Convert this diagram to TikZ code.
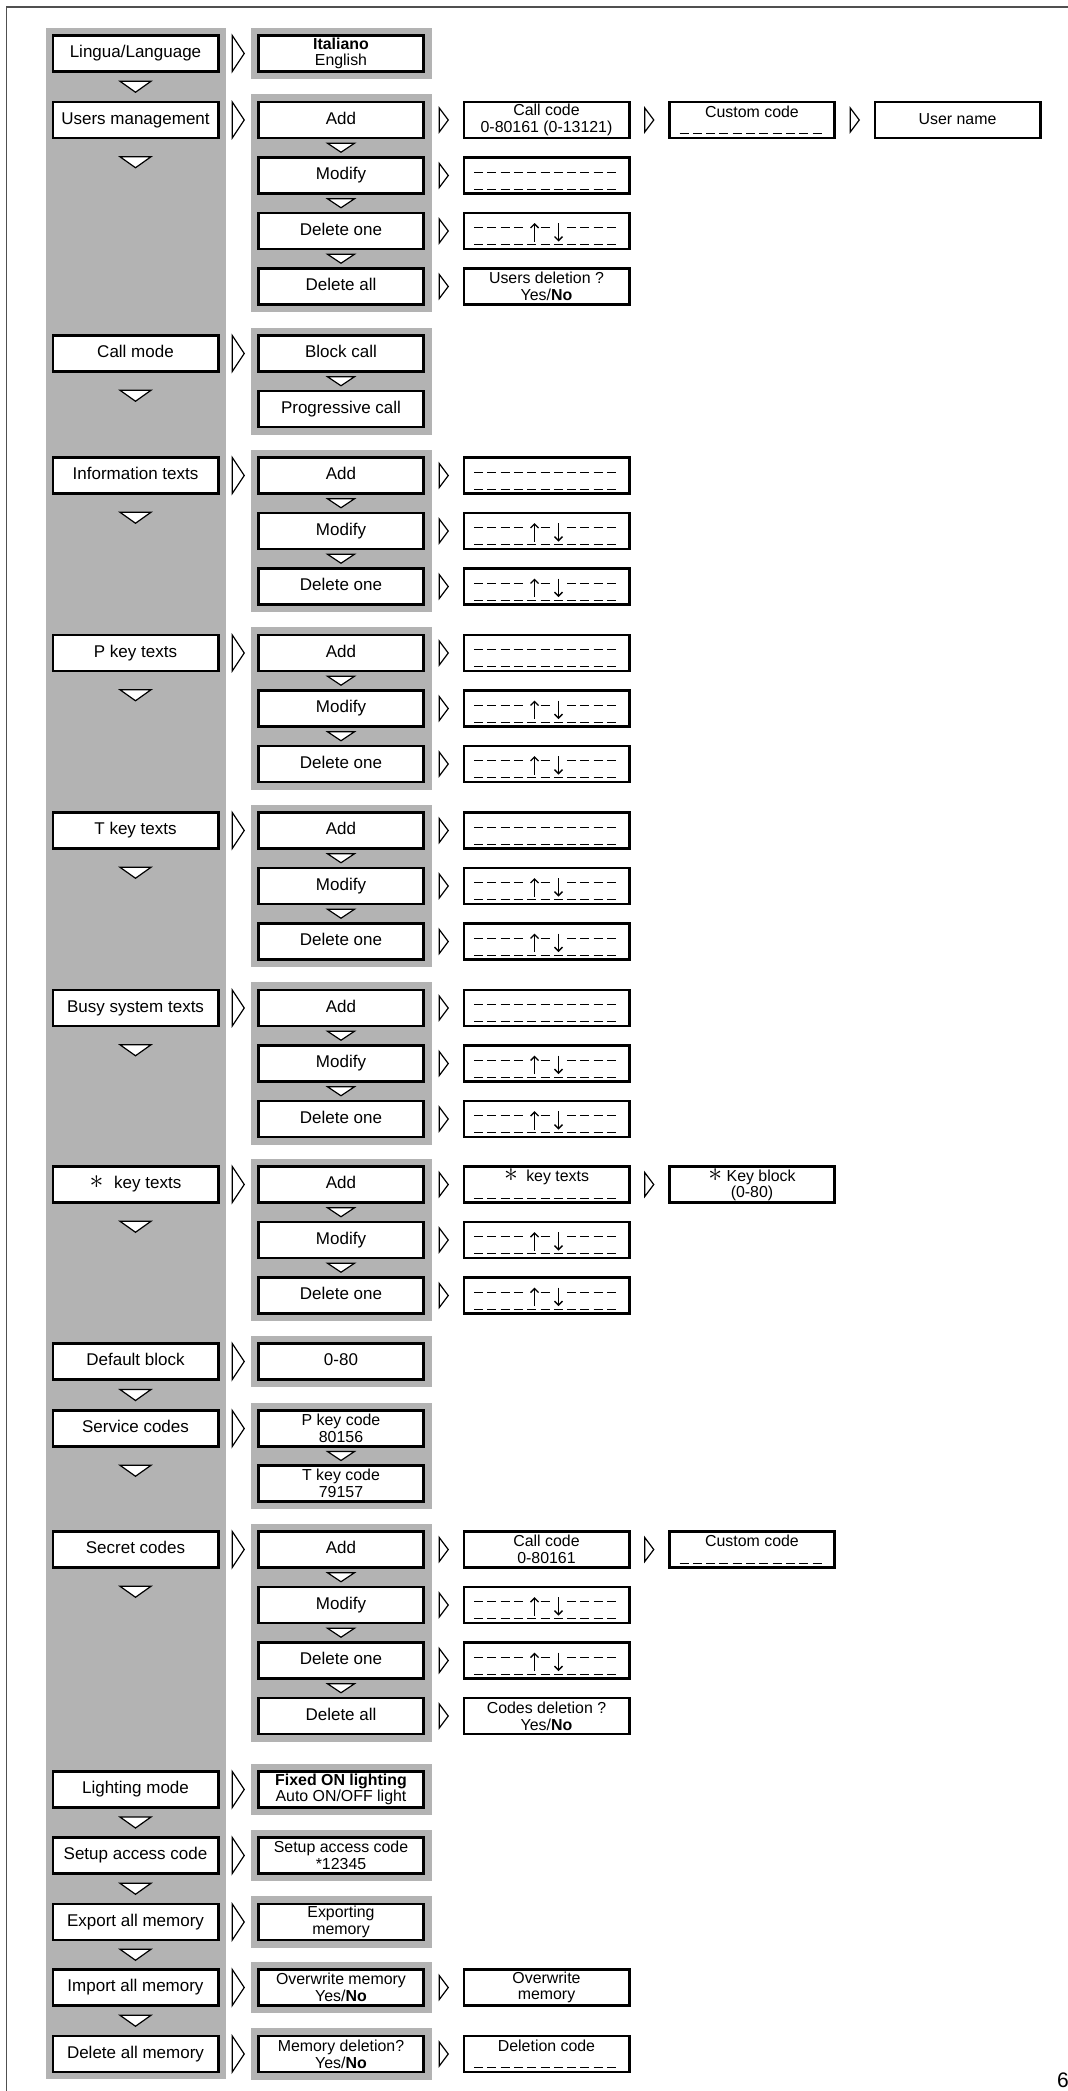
\documentclass[tikz,border=0pt]{standalone}
\usepackage{fontspec}
\setmainfont{Liberation Sans}
\usepackage{graphicx}
\usetikzlibrary{positioning,fit,backgrounds,calc,arrows.meta}

\definecolor{panelgray}{RGB}{179,179,179}
\definecolor{framegray}{RGB}{80,80,80}

\def\colgap{37.5pt}
\def\rowgap{17pt}

\tikzset{
  menubox/.style={draw=black, line width=2.6pt, fill=white, inner sep=0pt,
    minimum width=165.4pt, minimum height=35.9pt},
  item/.style={menubox, font=\fontsize{17}{18}\selectfont, text height=12pt, text depth=3.5pt},
  pair/.style={menubox, align=center, font=\fontsize{15.9}{16.6}\selectfont},
  lcdbox/.style={menubox},
  lcdcaption/.style={inner sep=0pt, font=\fontsize{15.9}{16.6}\selectfont, text height=11.5pt, text depth=3.4pt},
  panel/.style={fill=panelgray, inner sep=6.5pt},
  tri/.style={draw=black, line width=1.2pt, fill=white},
  lcd/.style={line width=0.9pt},
  lcdarrow/.style={line width=1.4pt, -{Straight Barb[length=4pt, width=8pt]}},
  bigtri/.pic={\draw[tri] (-6,18) -- (6,0) -- (-6,-18) -- cycle;},
  smalltri/.pic={\draw[tri] (-4.5,12) -- (4.5,0) -- (-4.5,-12) -- cycle;},
  downtri/.pic={\draw[tri] (-15.5,5.5) -- (15.5,5.5) -- (0,-5.5) -- cycle;},
  subtri/.pic={\draw[tri] (-13.5,4.5) -- (13.5,4.5) -- (0,-4.5) -- cycle;},
}

% display rows of the keypad screen
\newcommand{\dashrow}[2]{%
  \foreach \k in {0,...,10}
    \draw[lcd] ($(#1.center)+(-72.5+13.3*\k,#2)$) -- ++(9,0);}
\newcommand{\lcdblank}[1]{\dashrow{#1}{3.5}\dashrow{#1}{-13.5}}
\newcommand{\lcdscroll}[1]{%
  \foreach \k in {0,1,2,3,5,7,8,9,10}
    \draw[lcd] ($(#1.center)+(-72.5+13.3*\k,3.5)$) -- ++(9,0);
  \dashrow{#1}{-13.5}
  \draw[lcdarrow] ($(#1.center)+(-12,-10.5)$) -- ($(#1.center)+(-12,8)$);
  \draw[lcdarrow] ($(#1.center)+(12,8)$) -- ($(#1.center)+(12,-10.5)$);}
\newcommand{\lcdentry}[2]{%
  \node[lcdcaption] (#1cap) at ($(#1.center)+(0,7)$) {#2};
  \dashrow{#1}{-13.5}}

% pointers between menu boxes
\newcommand{\nextbig}[2]{\pic at ($(#1.east)!.5!(#2.west)$) {bigtri};}
\newcommand{\nextsmall}[2]{\pic at ($(#1.east)!.5!(#2.west)$) {smalltri};}
\newcommand{\downto}[2]{\pic at ($(#1.south)!.5!(#2.north)$) {downtri};}
\newcommand{\subto}[2]{\pic at ($(#1.south)!.5!(#2.north)$) {subtri};}
\newcommand{\downmore}[1]{\pic at ($(#1.south)+(0,-23)$) {downtri};}

\newcommand{\keystar}{\scalebox{1.6}{$\ast$}}

% menu with Add / Modify / Delete one
\newcommand{\textsgroup}[3]{%
  \node[item] (#1) at (135.5,#3) {#2};
  \node[item, right=\colgap of #1] (#1add) {Add};
  \node[item, below=\rowgap of #1add] (#1mod) {Modify};
  \node[item, below=\rowgap of #1mod] (#1del) {Delete one};
  \node[lcdbox, right=\colgap of #1add] (#1addlcd) {};
  \node[lcdbox, right=\colgap of #1mod] (#1modlcd) {};
  \node[lcdbox, right=\colgap of #1del] (#1dellcd) {};
  \lcdblank{#1addlcd}\lcdscroll{#1modlcd}\lcdscroll{#1dellcd}
  \nextbig{#1}{#1add}\downmore{#1}
  \subto{#1add}{#1mod}\subto{#1mod}{#1del}
  \nextsmall{#1add}{#1addlcd}\nextsmall{#1mod}{#1modlcd}\nextsmall{#1del}{#1dellcd}
  \begin{scope}[on background layer]
    \node[panel, fit=(#1add)(#1del)] (#1panel) {};
  \end{scope}}

\begin{document}
\begin{tikzpicture}[x=1pt,y=1pt]
\useasboundingbox (0,0) rectangle (1068,-2091);

% Lingua
\node[item] (lang) at (135.5,-53.5) {Lingua/Language};
\node[pair, right=\colgap of lang] (langval) {\textbf{Italiano}\\English};
\nextbig{lang}{langval}

% Users management
\node[item] (users) at (135.5,-120) {Users management};
\node[item, right=\colgap of users] (uadd) {Add};
\node[item, below=\rowgap of uadd] (umod) {Modify};
\node[item, below=\rowgap of umod] (udel) {Delete one};
\node[item, below=\rowgap of udel] (udelall) {Delete all};
\node[pair, right=\colgap of uadd] (ucall) {Call code\\0-80161 (0-13121)};
\node[lcdbox, right=\colgap of ucall] (ucustom) {};
\node[item, font=\fontsize{15.9}{16.6}\selectfont, right=\colgap of ucustom] (uname) {User name};
\node[lcdbox, right=\colgap of umod] (umodlcd) {};
\node[lcdbox, right=\colgap of udel] (udellcd) {};
\node[pair, right=\colgap of udelall] (udelq) {Users deletion ?\\Yes/\textbf{No}};
\lcdentry{ucustom}{Custom code}
\lcdblank{umodlcd}
\lcdscroll{udellcd}
\downto{lang}{users}
\nextbig{users}{uadd} \downmore{users}
\subto{uadd}{umod} \subto{umod}{udel} \subto{udel}{udelall}
\nextsmall{uadd}{ucall} \nextsmall{ucall}{ucustom} \nextsmall{ucustom}{uname}
\nextsmall{umod}{umodlcd} \nextsmall{udel}{udellcd} \nextsmall{udelall}{udelq}

% Call mode
\node[item] (call) at (135.5,-353.5) {Call mode};
\node[item, right=\colgap of call] (mblock) {Block call};
\node[item, below=\rowgap of mblock] (mprog) {Progressive call};
\nextbig{call}{mblock} \downmore{call}
\subto{mblock}{mprog}

% Text menus
\textsgroup{info}{Information texts}{-475.5}
\textsgroup{pkey}{P key texts}{-653}
\textsgroup{tkey}{T key texts}{-830.5}
\textsgroup{busy}{Busy system texts}{-1008}

% Star key texts
\node[item] (star) at (135.5,-1184.5) {\keystar\hspace{6pt} key texts};
\node[item, right=\colgap of star] (kadd) {Add};
\node[item, below=\rowgap of kadd] (kmod) {Modify};
\node[item, below=\rowgap of kmod] (kdel) {Delete one};
\node[lcdbox, right=\colgap of kadd] (ktext) {};
\node[pair, right=\colgap of ktext] (kblock) {\keystar{} Key block\\(0-80)};
\node[lcdbox, right=\colgap of kmod] (kmodlcd) {};
\node[lcdbox, right=\colgap of kdel] (kdellcd) {};
\lcdentry{ktext}{\keystar\hspace{4pt} key texts}
\lcdscroll{kmodlcd}
\lcdscroll{kdellcd}
\nextbig{star}{kadd} \downmore{star}
\subto{kadd}{kmod} \subto{kmod}{kdel}
\nextsmall{kadd}{ktext} \nextsmall{ktext}{kblock}
\nextsmall{kmod}{kmodlcd} \nextsmall{kdel}{kdellcd}

% Default block
\node[item] (defblock) at (135.5,-1361.5) {Default block};
\node[item, right=\colgap of defblock] (defval) {0-80};
\nextbig{defblock}{defval}

% Service codes
\node[item] (service) at (135.5,-1428.5) {Service codes};
\node[pair, right=\colgap of service] (spkey) {P key code\\80156};
\node[pair, below=16.5pt of spkey] (stkey) {T key code\\79157};
\downto{defblock}{service}
\nextbig{service}{spkey} \downmore{service}
\subto{spkey}{stkey}

% Secret codes
\node[item] (secret) at (135.5,-1549.5) {Secret codes};
\node[item, right=\colgap of secret] (cadd) {Add};
\node[item, below=\rowgap of cadd] (cmod) {Modify};
\node[item, below=\rowgap of cmod] (cdel) {Delete one};
\node[item, below=\rowgap of cdel] (cdelall) {Delete all};
\node[pair, right=\colgap of cadd] (ccall) {Call code\\0-80161};
\node[lcdbox, right=\colgap of ccall] (ccustom) {};
\node[lcdbox, right=\colgap of cmod] (cmodlcd) {};
\node[lcdbox, right=\colgap of cdel] (cdellcd) {};
\node[pair, right=\colgap of cdelall] (cdelq) {Codes deletion ?\\Yes/\textbf{No}};
\lcdentry{ccustom}{Custom code}
\lcdscroll{cmodlcd}
\lcdscroll{cdellcd}
\nextbig{secret}{cadd} \downmore{secret}
\subto{cadd}{cmod} \subto{cmod}{cdel} \subto{cdel}{cdelall}
\nextsmall{cadd}{ccall} \nextsmall{ccall}{ccustom}
\nextsmall{cmod}{cmodlcd} \nextsmall{cdel}{cdellcd} \nextsmall{cdelall}{cdelq}

% Lighting, access code and memory
\node[item] (light) at (135.5,-1789.5) {Lighting mode};
\node[pair, right=\colgap of light] (lightval) {\textbf{Fixed ON lighting}\\Auto ON/OFF light};
\node[item] (setup) at (135.5,-1855.5) {Setup access code};
\node[pair, right=\colgap of setup] (setupval) {Setup access code\\*12345};
\node[item] (export) at (135.5,-1922) {Export all memory};
\node[pair, right=\colgap of export] (exportval) {Exporting\\memory};
\node[item] (import) at (135.5,-1987.5) {Import all memory};
\node[pair, right=\colgap of import] (importval) {Overwrite memory\\Yes/\textbf{No}};
\node[pair, right=\colgap of importval] (importdone) {Overwrite\\memory};
\node[item] (delmem) at (135.5,-2054) {Delete all memory};
\node[pair, right=\colgap of delmem] (delmemq) {Memory deletion?\\Yes/\textbf{No}};
\node[lcdbox, right=\colgap of delmemq] (delcode) {};
\lcdentry{delcode}{Deletion code}
\nextbig{light}{lightval} \nextbig{setup}{setupval} \nextbig{export}{exportval}
\nextbig{import}{importval} \nextbig{delmem}{delmemq}
\nextsmall{importval}{importdone} \nextsmall{delmemq}{delcode}
\downto{light}{setup} \downto{setup}{export} \downto{export}{import} \downto{import}{delmem}

% Grey panels
\begin{scope}[on background layer]
  \node[panel, inner sep=6pt, fit=(lang)(delmem)] (mainpanel) {};
  \node[panel, fit=(langval)] (langpanel) {};
  \node[panel, fit=(uadd)(udelall)] (userpanel) {};
  \node[panel, fit=(mblock)(mprog)] (callpanel) {};
  \node[panel, fit=(kadd)(kdel)] (starpanel) {};
  \node[panel, fit=(defval)] (defpanel) {};
  \node[panel, fit=(spkey)(stkey)] (servicepanel) {};
  \node[panel, fit=(cadd)(cdelall)] (secretpanel) {};
  \node[panel, fit=(lightval)] (lightpanel) {};
  \node[panel, fit=(setupval)] (setuppanel) {};
  \node[panel, fit=(exportval)] (exportpanel) {};
  \node[panel, fit=(importval)] (importpanel) {};
  \node[panel, fit=(delmemq)] (delmempanel) {};
\end{scope}

% Page frame and number
\draw[framegray, line width=1.6pt] (1068,-7) -- (6.5,-7) -- (6.5,-2091);
\node[anchor=base west, inner sep=0pt, font=\fontsize{21}{21}\selectfont] (pagenum) at (1057,-2087) {6};
\end{tikzpicture}
\end{document}
